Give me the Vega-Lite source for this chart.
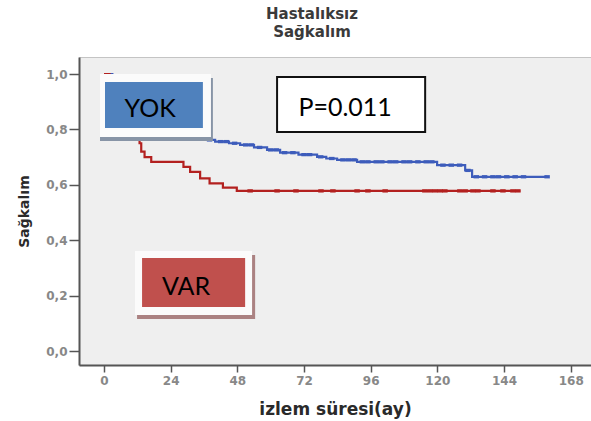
{
  "$schema": "https://vega.github.io/schema/vega-lite/v6.json",
  "width": 512,
  "height": 308,
  "autosize": {"type": "none"},
  "padding": {"left": 79, "top": 57, "right": 0, "bottom": 56},
  "background": "white",
  "config": {
    "view": {"fill": "#efefef", "stroke": "#c4c4c4", "strokeWidth": 1},
    "axis": {"grid": false}
  },
  "title": {
    "text": ["Hastalıksız", "Sağkalım"],
    "font": "DejaVu Sans",
    "fontWeight": "bold",
    "fontSize": 15,
    "color": "#3a3a3a",
    "lineHeight": 18,
    "anchor": "middle",
    "dx": -23,
    "offset": 17
  },
  "datasets": {
    "km": [
      {"grp": "YOK", "m": 0, "s": 1.0}, {"grp": "YOK", "m": 3, "s": 0.98}, {"grp": "YOK", "m": 6, "s": 0.96},
      {"grp": "YOK", "m": 9, "s": 0.94}, {"grp": "YOK", "m": 12, "s": 0.915}, {"grp": "YOK", "m": 15, "s": 0.89},
      {"grp": "YOK", "m": 18, "s": 0.86}, {"grp": "YOK", "m": 21, "s": 0.83}, {"grp": "YOK", "m": 24, "s": 0.8},
      {"grp": "YOK", "m": 28, "s": 0.78}, {"grp": "YOK", "m": 31, "s": 0.769}, {"grp": "YOK", "m": 36, "s": 0.762},
      {"grp": "YOK", "m": 40, "s": 0.756}, {"grp": "YOK", "m": 45, "s": 0.75}, {"grp": "YOK", "m": 49, "s": 0.744},
      {"grp": "YOK", "m": 54, "s": 0.735}, {"grp": "YOK", "m": 58.7, "s": 0.726}, {"grp": "YOK", "m": 63.4, "s": 0.716},
      {"grp": "YOK", "m": 70, "s": 0.709}, {"grp": "YOK", "m": 76.7, "s": 0.701}, {"grp": "YOK", "m": 80, "s": 0.695},
      {"grp": "YOK", "m": 83.9, "s": 0.69}, {"grp": "YOK", "m": 91.1, "s": 0.683}, {"grp": "YOK", "m": 119.9, "s": 0.671},
      {"grp": "YOK", "m": 130, "s": 0.652}, {"grp": "YOK", "m": 132.5, "s": 0.629}, {"grp": "YOK", "m": 159.5, "s": 0.629},
      {"grp": "VAR", "m": 0, "s": 1.0}, {"grp": "VAR", "m": 2, "s": 0.97}, {"grp": "VAR", "m": 4, "s": 0.93},
      {"grp": "VAR", "m": 6, "s": 0.88}, {"grp": "VAR", "m": 8, "s": 0.82}, {"grp": "VAR", "m": 9.4, "s": 0.77},
      {"grp": "VAR", "m": 12.8, "s": 0.75}, {"grp": "VAR", "m": 13.4, "s": 0.72}, {"grp": "VAR", "m": 14.6, "s": 0.7},
      {"grp": "VAR", "m": 17, "s": 0.683}, {"grp": "VAR", "m": 28.6, "s": 0.665}, {"grp": "VAR", "m": 31, "s": 0.647},
      {"grp": "VAR", "m": 34.6, "s": 0.623}, {"grp": "VAR", "m": 38, "s": 0.605}, {"grp": "VAR", "m": 42.8, "s": 0.59},
      {"grp": "VAR", "m": 47.8, "s": 0.578}, {"grp": "VAR", "m": 149.8, "s": 0.578}
    ],
    "censor": [
      {"grp": "YOK", "m": 33, "s": 0.769}, {"grp": "YOK", "m": 35, "s": 0.769}, {"grp": "YOK", "m": 38, "s": 0.762},
      {"grp": "YOK", "m": 42, "s": 0.756}, {"grp": "YOK", "m": 44, "s": 0.756}, {"grp": "YOK", "m": 47, "s": 0.75},
      {"grp": "YOK", "m": 51, "s": 0.744}, {"grp": "YOK", "m": 53, "s": 0.744}, {"grp": "YOK", "m": 56, "s": 0.735},
      {"grp": "YOK", "m": 60, "s": 0.726}, {"grp": "YOK", "m": 62, "s": 0.726}, {"grp": "YOK", "m": 65, "s": 0.716},
      {"grp": "YOK", "m": 68, "s": 0.716}, {"grp": "YOK", "m": 72, "s": 0.709}, {"grp": "YOK", "m": 74, "s": 0.709},
      {"grp": "YOK", "m": 78, "s": 0.701}, {"grp": "YOK", "m": 82, "s": 0.695}, {"grp": "YOK", "m": 86, "s": 0.69},
      {"grp": "YOK", "m": 88, "s": 0.69}, {"grp": "YOK", "m": 90, "s": 0.69}, {"grp": "YOK", "m": 93, "s": 0.683},
      {"grp": "YOK", "m": 95, "s": 0.683}, {"grp": "YOK", "m": 98, "s": 0.683}, {"grp": "YOK", "m": 100, "s": 0.683},
      {"grp": "YOK", "m": 103, "s": 0.683}, {"grp": "YOK", "m": 105, "s": 0.683}, {"grp": "YOK", "m": 108, "s": 0.683},
      {"grp": "YOK", "m": 110, "s": 0.683}, {"grp": "YOK", "m": 113, "s": 0.683}, {"grp": "YOK", "m": 116, "s": 0.683},
      {"grp": "YOK", "m": 118, "s": 0.683}, {"grp": "YOK", "m": 122, "s": 0.671}, {"grp": "YOK", "m": 125, "s": 0.671},
      {"grp": "YOK", "m": 128, "s": 0.671}, {"grp": "YOK", "m": 131, "s": 0.652}, {"grp": "YOK", "m": 134, "s": 0.629},
      {"grp": "YOK", "m": 137, "s": 0.629}, {"grp": "YOK", "m": 140, "s": 0.629}, {"grp": "YOK", "m": 142, "s": 0.629},
      {"grp": "YOK", "m": 145, "s": 0.629}, {"grp": "YOK", "m": 148, "s": 0.629}, {"grp": "YOK", "m": 151, "s": 0.629},
      {"grp": "YOK", "m": 159.5, "s": 0.629},
      {"grp": "VAR", "m": 52.6, "s": 0.578}, {"grp": "VAR", "m": 62.3, "s": 0.578}, {"grp": "VAR", "m": 69.1, "s": 0.578},
      {"grp": "VAR", "m": 78.1, "s": 0.578}, {"grp": "VAR", "m": 82.4, "s": 0.578}, {"grp": "VAR", "m": 91.1, "s": 0.578},
      {"grp": "VAR", "m": 95, "s": 0.578}, {"grp": "VAR", "m": 101.2, "s": 0.578}, {"grp": "VAR", "m": 115.5, "s": 0.578},
      {"grp": "VAR", "m": 117.4, "s": 0.578}, {"grp": "VAR", "m": 119.2, "s": 0.578}, {"grp": "VAR", "m": 121, "s": 0.578},
      {"grp": "VAR", "m": 122.7, "s": 0.578}, {"grp": "VAR", "m": 128.1, "s": 0.578}, {"grp": "VAR", "m": 130, "s": 0.578},
      {"grp": "VAR", "m": 132.8, "s": 0.578}, {"grp": "VAR", "m": 134.6, "s": 0.578}, {"grp": "VAR", "m": 140, "s": 0.578},
      {"grp": "VAR", "m": 143.6, "s": 0.578}, {"grp": "VAR", "m": 147.2, "s": 0.578}, {"grp": "VAR", "m": 149, "s": 0.578}
    ],
    "boxes": [
      {"box": "YOK", "part": "shadow", "x1": -1.44, "x2": 39.2, "y1": 0.9856, "y2": 0.758},
      {"box": "YOK", "part": "frame", "x1": -1.44, "x2": 38.5, "y1": 1.0, "y2": 0.7726},
      {"box": "YOK", "part": "fill", "x1": 0.36, "x2": 35.6, "y1": 0.971, "y2": 0.805},
      {"box": "VAR", "part": "shadow", "x1": 11.9, "x2": 54.4, "y1": 0.3466, "y2": 0.1155},
      {"box": "VAR", "part": "frame", "x1": 11.16, "x2": 53.3, "y1": 0.361, "y2": 0.13},
      {"box": "VAR", "part": "fill", "x1": 13.7, "x2": 50.8, "y1": 0.3357, "y2": 0.1588},
      {"box": "P", "part": "pbox", "x1": 62.3, "x2": 115.6, "y1": 0.989, "y2": 0.791}
    ],
    "labels": [
      {"txt": "YOK", "m": 16.6, "s": 0.874},
      {"txt": "VAR", "m": 29.5, "s": 0.231},
      {"txt": "P=0.011", "m": 86.8, "s": 0.879}
    ]
  },
  "layer": [
    {
      "data": {"name": "km"},
      "mark": {"type": "line", "interpolate": "step-after", "strokeWidth": 2.2},
      "encoding": {
        "x": {
          "field": "m", "type": "quantitative",
          "scale": {"domain": [-9, 175.3], "nice": false, "zero": false},
          "axis": {
            "values": [0, 24, 48, 72, 96, 120, 144, 168],
            "title": "izlem süresi(ay)",
            "titleFont": "DejaVu Sans", "titleFontWeight": "bold", "titleFontSize": 17, "titleColor": "#2a2a2a",
            "titlePadding": 15,
            "labelFont": "DejaVu Sans", "labelFontWeight": "bold", "labelFontSize": 12, "labelColor": "#888",
            "labelPadding": 3,
            "domainColor": "#555", "domainWidth": 2,
            "tickColor": "#555", "tickWidth": 1.5, "tickSize": 7
          }
        },
        "y": {
          "field": "s", "type": "quantitative",
          "scale": {"domain": [-0.0505, 1.0614], "nice": false, "zero": false},
          "axis": {
            "values": [0, 0.2, 0.4, 0.6, 0.8, 1.0],
            "labelExpr": "replace(format(datum.value, '.1f'), '.', ',')",
            "title": "Sağkalım",
            "titleFont": "DejaVu Sans", "titleFontWeight": "bold", "titleFontSize": 14, "titleColor": "#2a2a2a",
            "titleX": -55, "titleY": 154, "titleAngle": -90, "titleAlign": "center", "titleBaseline": "middle",
            "labelFont": "DejaVu Sans", "labelFontWeight": "bold", "labelFontSize": 12, "labelColor": "#888",
            "labelPadding": 2,
            "domainColor": "#555", "domainWidth": 2,
            "tickColor": "#555", "tickWidth": 1.5, "tickSize": 10
          }
        },
        "color": {
          "field": "grp", "type": "nominal",
          "scale": {"domain": ["YOK", "VAR"], "range": ["#3d5cbb", "#b3201f"]},
          "legend": null
        },
        "detail": {"field": "grp"}
      }
    },
    {
      "data": {"name": "censor"},
      "mark": {"type": "point", "shape": "M-1,-0.6H1V0.6H-1Z", "filled": true, "size": 30, "opacity": 1},
      "encoding": {
        "x": {"field": "m", "type": "quantitative"},
        "y": {"field": "s", "type": "quantitative"},
        "color": {
          "field": "grp", "type": "nominal",
          "scale": {"domain": ["YOK", "VAR"], "range": ["#3d5cbb", "#b3201f"]},
          "legend": null
        }
      }
    },
    {
      "data": {"name": "boxes"},
      "transform": [{"filter": "datum.part === 'shadow'"}],
      "mark": {"type": "rect"},
      "encoding": {
        "x": {"field": "x1", "type": "quantitative"},
        "x2": {"field": "x2"},
        "y": {"field": "y1", "type": "quantitative"},
        "y2": {"field": "y2"},
        "fill": {"field": "box", "type": "nominal", "scale": {"domain": ["YOK", "VAR"], "range": ["#8794a6", "#ab8282"]}, "legend": null}
      }
    },
    {
      "data": {"name": "boxes"},
      "transform": [{"filter": "datum.part === 'frame'"}],
      "mark": {"type": "rect", "fill": "#fbfbfb"},
      "encoding": {
        "x": {"field": "x1", "type": "quantitative"},
        "x2": {"field": "x2"},
        "y": {"field": "y1", "type": "quantitative"},
        "y2": {"field": "y2"}
      }
    },
    {
      "data": {"name": "boxes"},
      "transform": [{"filter": "datum.part === 'fill'"}],
      "mark": {"type": "rect"},
      "encoding": {
        "x": {"field": "x1", "type": "quantitative"},
        "x2": {"field": "x2"},
        "y": {"field": "y1", "type": "quantitative"},
        "y2": {"field": "y2"},
        "fill": {"field": "box", "type": "nominal", "scale": {"domain": ["YOK", "VAR"], "range": ["#4f81bd", "#c0504d"]}, "legend": null}
      }
    },
    {
      "data": {"name": "boxes"},
      "transform": [{"filter": "datum.part === 'pbox'"}],
      "mark": {"type": "rect", "fill": "white", "stroke": "#111", "strokeWidth": 2},
      "encoding": {
        "x": {"field": "x1", "type": "quantitative"},
        "x2": {"field": "x2"},
        "y": {"field": "y1", "type": "quantitative"},
        "y2": {"field": "y2"}
      }
    },
    {
      "data": {"name": "labels"},
      "mark": {"type": "text", "font": "Lato", "fontSize": 25, "color": "#000", "align": "center", "baseline": "middle"},
      "encoding": {
        "x": {"field": "m", "type": "quantitative"},
        "y": {"field": "s", "type": "quantitative"},
        "text": {"field": "txt"}
      }
    }
  ],
  "resolve": {"scale": {"fill": "independent"}}
}
